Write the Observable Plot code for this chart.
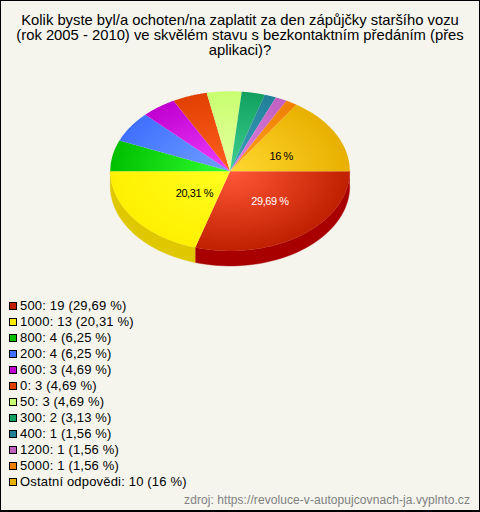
<!DOCTYPE html>
<html><head><meta charset="utf-8">
<script src="https://cdn.jsdelivr.net/npm/d3@7"></script>
<script src="https://cdn.jsdelivr.net/npm/@observablehq/plot@0.6"></script>
<style>
html,body{margin:0;padding:0;background:#fff}
#frame{position:relative;width:480px;height:512px;box-sizing:border-box;border:1px solid #000;border-bottom-width:2px;background:#f5f5ee;overflow:hidden;font-family:"Liberation Sans",Arial,sans-serif;color:#000}
#title{position:absolute;left:0;top:12px;width:478px;text-align:center;font-size:14.8px;line-height:15px;white-space:nowrap}
#chart{position:absolute;left:-1px;top:-1px}
#legend{position:absolute;left:8px;top:297px;font-size:13px;line-height:16px;letter-spacing:.18px;white-space:nowrap}
#legend div{height:16px;display:flex;align-items:center}
#legend i{display:inline-block;box-sizing:border-box;width:8px;height:8px;border:1px solid #000;margin-right:3px}
#source{position:absolute;right:9px;bottom:2px;font-size:12px;line-height:16px;color:#808080;letter-spacing:.07px}
</style></head><body>
<div id="frame">
<div id="title"></div>
<div id="chart"></div>
<div id="legend"></div>
<div id="source"></div>
</div>
<script>
const titleLines = ["Kolik byste byl/a ochoten/na zaplatit za den zápůjčky staršího vozu","(rok 2005 - 2010) ve skvělém stavu s bezkontaktním předáním (přes","aplikaci)?"];
const sourceText = "zdroj: https://revoluce-v-autopujcovnach-ja.vyplnto.cz";
const categories = ["500","1000","800","200","600","0","50","300","400","1200","5000","Ostatní odpovědi"];
const counts = [19,13,4,4,3,3,3,2,1,1,1,10];
const percents = ["29,69","20,31","6,25","6,25","4,69","4,69","4,69","3,13","1,56","1,56","1,56","16"];
const baseColors = ["#c02000","#ffe800","#00c000","#4070ff","#c000d0","#e04000","#c8ff70","#10a060","#208098","#c060c0","#f08000","#e8b000"];
const edgeColors = ["#c02000","#fff000","#00c000","#4070ff","#c000d0","#e04000","#c8ff70","#10a060","#208098","#c060c0","#f08000","#e8b000"];
const lightColors = ["#ff5838","#ffff20","#30ff30","#70a0ff","#f040ff","#ff6020","#e8ffa0","#40d090","#40a0c0","#e080e0","#ffa020","#ffd830"];
const sideColors = ["#a80000","#e0c800"];
const labelRadiusX = [0.56,0.37,0,0,0,0,0,0,0,0,0,0.485];
const labelRadiusY = [0.48,0.48,0,0,0,0,0,0,0,0,0,0.39];
const labelInk = ["#fff","#000","","","","","","","","","","#000"];

document.getElementById("title").innerHTML = titleLines.join("<br>");
document.getElementById("source").textContent = sourceText;
document.getElementById("legend").innerHTML = categories.map((c,i)=>
  `<div><i style="background:${baseColors[i]}"></i>${c}: ${counts[i]} (${percents[i]} %)</div>`).join("");

const total = d3.sum(counts);
let acc = 0;
const slices = categories.map((c,i)=>{ const a0 = acc/total*2*Math.PI; acc += counts[i]; return {c,i,a0,a1:acc/total*2*Math.PI}; });
const arcPts = (a0,a1,drop,id,fill) => d3.range(0,41).map(k=>{ const a=a0+(a1-a0)*k/40; return {x:Math.cos(a),y:Math.sin(a)+drop,id,fill}; });
const topPts = slices.flatMap(s=>{
  const fill = `url(#g${s.i})`;
  return [{x:0,y:0,id:s.i,fill},...arcPts(s.a0,s.a1,0,s.i,fill)];
});
const depth = 15/80;
const sidePts = slices.slice(0,2).flatMap((s,i)=>{
  const f = sideColors[i];
  return [...arcPts(s.a0,s.a1,0,"s"+i,f),...arcPts(s.a0,s.a1,depth,"s"+i,f).reverse()];
});
const labels = slices.filter(s=>labelRadiusX[s.i]>0).map(s=>{
  const m=(s.a0+s.a1)/2;
  return {x:labelRadiusX[s.i]*Math.cos(m),y:labelRadiusY[s.i]*Math.sin(m),text:percents[s.i]+" %",ink:labelInk[s.i]};
});
const plot = Plot.plot({
  width:480,height:512,margin:0,
  x:{domain:[-1,1],range:[110,350],axis:null},
  y:{domain:[-1,1],range:[91,251],axis:null},
  color:{type:"identity"},
  style:{background:"transparent"},
  marks:[
    Plot.line(sidePts,{x:"x",y:"y",z:"id",fill:"fill",stroke:"fill",strokeWidth:.4,curve:"linear"}),
    Plot.line(topPts,{x:"x",y:"y",z:"id",fill:"fill",stroke:"none",curve:"linear"}),
    Plot.text(labels,{x:"x",y:"y",text:"text",fill:"ink",fontSize:11,fontFamily:"Liberation Sans"})
  ]
});
d3.select(plot).selectAll("text").style("letter-spacing","-.4px");
const defs = d3.select(plot).insert("defs",":first-child");
edgeColors.forEach((b,i)=>{
  const g = defs.append("radialGradient").attr("id","g"+i).attr("gradientUnits","userSpaceOnUse")
    .attr("cx",0).attr("cy",0).attr("r",120)
    .attr("gradientTransform","translate(230,171) scale(1,0.667)");
  g.append("stop").attr("offset","0").attr("stop-color",lightColors[i]);
  g.append("stop").attr("offset","1").attr("stop-color",b);
});
document.getElementById("chart").append(plot);
</script>
</body></html>
